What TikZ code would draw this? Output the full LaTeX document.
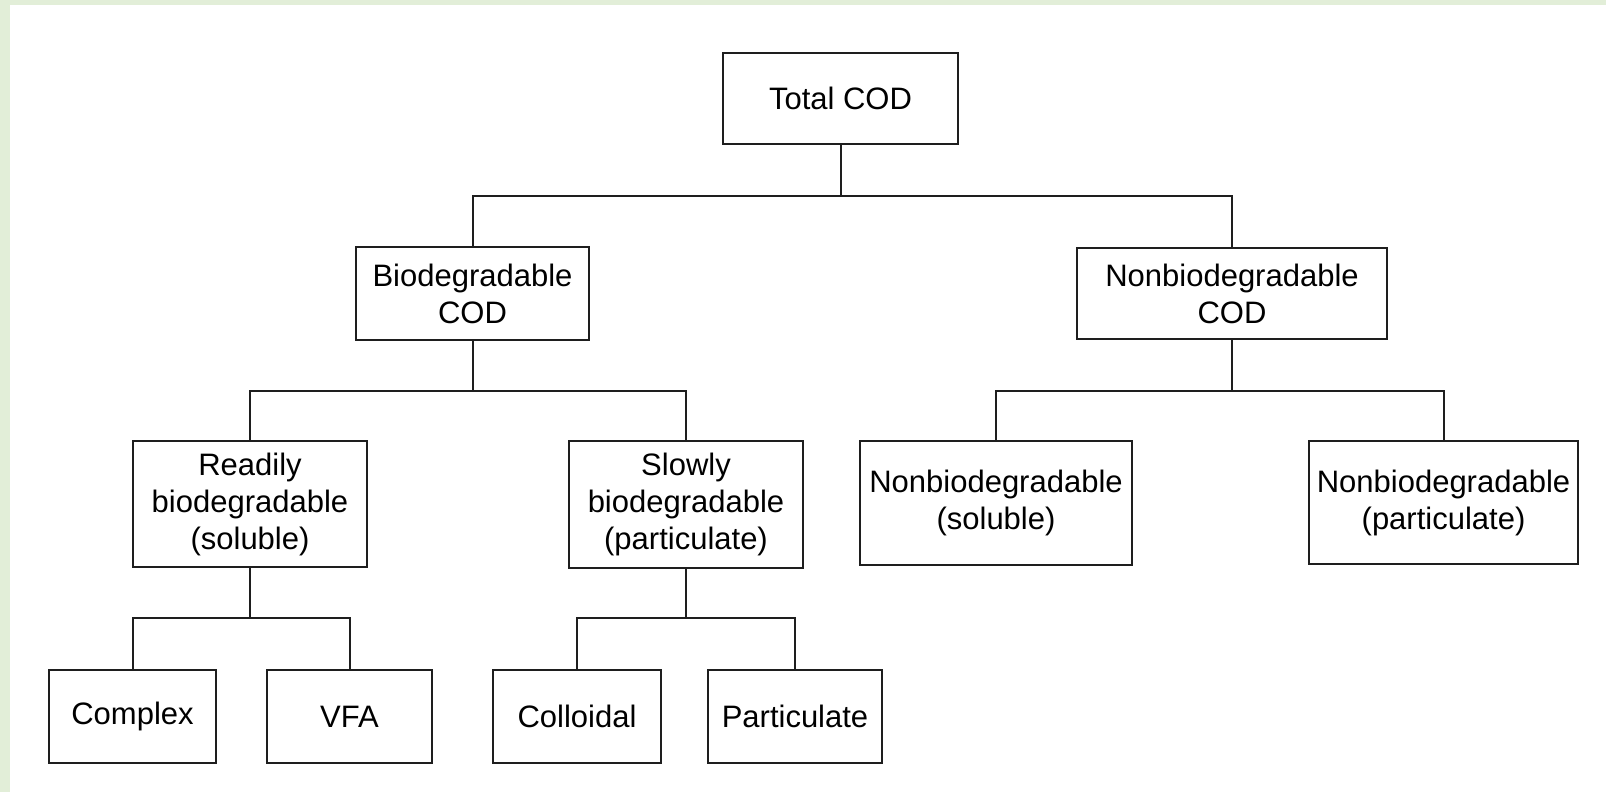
\documentclass[tikz,border=0pt]{standalone}
\usepackage{fontspec}
\setmainfont{Liberation Sans}
\definecolor{frame}{RGB}{226,238,216}
\definecolor{ink}{RGB}{30,30,30}
\begin{document}
\begin{tikzpicture}[x=1pt,y=-1pt,
  box/.style={draw=ink, line width=2.2pt, rectangle, inner sep=0pt, outer sep=0pt,
    align=center, font=\fontsize{31}{37}\selectfont, text=black},
  link/.style={draw=ink, line width=2pt}]
\useasboundingbox (0,0) rectangle (1606,792);
\fill[white] (0,0) rectangle (1606,792);
\fill[frame] (0,0) rectangle (10,792);
\fill[frame] (0,0) rectangle (1606,5);

\node[box, minimum width=235pt, minimum height=91pt] (total) at (840.5,98.5) {Total COD};
\node[box, minimum width=233pt, minimum height=93pt] (bio) at (472.5,293.5) {Biodegradable\\COD};
\node[box, minimum width=310pt, minimum height=91pt] (nonbio) at (1232,293.5) {Nonbiodegradable\\COD};
\node[box, minimum width=234pt, minimum height=126pt] (ready) at (250,504) {Readily\\biodegradable\\(soluble)};
\node[box, minimum width=234pt, minimum height=127pt] (slow) at (686,504.5) {Slowly\\biodegradable\\(particulate)};
\node[box, minimum width=272pt, minimum height=124pt] (nbsol) at (996,503) {Nonbiodegradable\\(soluble)};
\node[box, minimum width=269pt, minimum height=123pt] (nbpart) at (1443.5,502.5) {Nonbiodegradable\\(particulate)};
\node[box, minimum width=167pt, minimum height=93pt] (complex) at (132.5,716.5) {Complex};
\node[box, minimum width=165pt, minimum height=93pt] (vfa) at (349.5,716.5) {VFA};
\node[box, minimum width=168pt, minimum height=93pt] (coll) at (577,716.5) {Colloidal};
\node[box, minimum width=174pt, minimum height=93pt] (part) at (795,716.5) {Particulate};

\coordinate (j1) at (0,196);
\coordinate (j2) at (0,391);
\coordinate (j3) at (0,617.5);

\draw[link] (total.south) -- (total.south |- j1);
\draw[link] (bio.north) |- (nonbio.north |- j1) -- (nonbio.north);

\draw[link] (bio.south) -- (bio.south |- j2);
\draw[link] (ready.north) |- (slow.north |- j2) -- (slow.north);

\draw[link] (nonbio.south) -- (nonbio.south |- j2);
\draw[link] (nbsol.north) |- (nbpart.north |- j2) -- (nbpart.north);

\draw[link] (ready.south) -- (ready.south |- j3);
\draw[link] (complex.north) |- (vfa.north |- j3) -- (vfa.north);

\draw[link] (slow.south) -- (slow.south |- j3);
\draw[link] (coll.north) |- (part.north |- j3) -- (part.north);
\end{tikzpicture}
\end{document}
